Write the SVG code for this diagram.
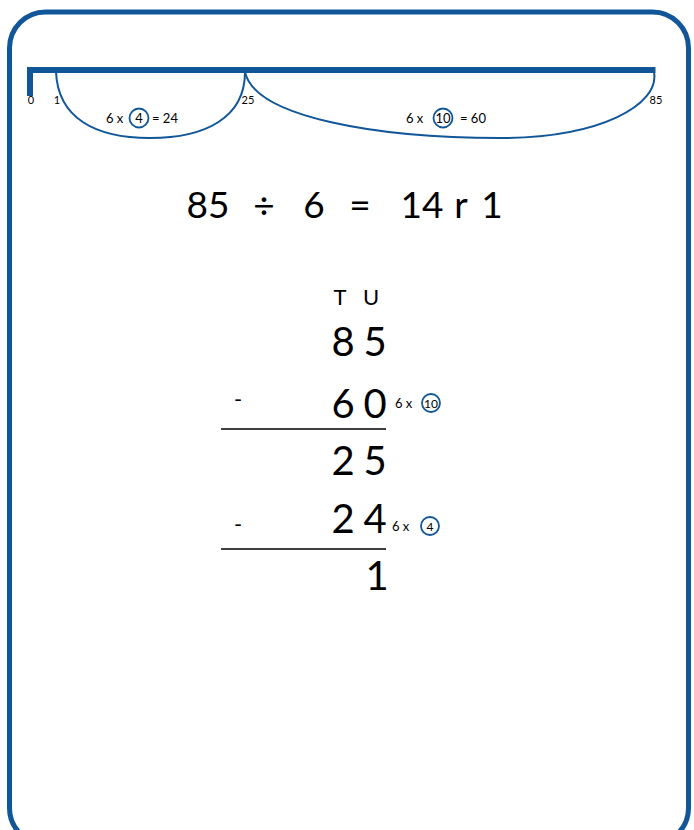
<svg xmlns="http://www.w3.org/2000/svg" width="694" height="830" viewBox="0 0 694 830">
<style>
  .blue{fill:none;stroke:#115699;}
  .t{font-family:Lato,"Open Sans","Liberation Sans",sans-serif;fill:#000;}
  .c{fill:none;stroke:#115699;stroke-width:1.8;}
</style>
<rect id="frame" x="9.5" y="12" width="679" height="832" rx="36" ry="36" class="blue" stroke-width="5"/>
<g id="numberline">
  <path d="M30 96 V70 H655.5" class="blue" stroke-width="6"/>
  <g class="t" font-size="11" text-anchor="middle">
    <text x="31" y="104">0</text>
    <text x="57" y="104">1</text>
    <text x="248" y="104">25</text>
    <text x="656" y="104">85</text>
  </g>
</g>
<g id="jumps">
  <path d="M56 72 C58 118 95 138 150 138 C205 138 245 118 245 72" class="blue" stroke-width="2"/>
  <path d="M245 72 C255 118 380 138 500 138 C600 138 660 105 654 72" class="blue" stroke-width="2"/>
</g>
<g id="jump1-label">
  <text class="t" font-size="13" x="106" y="122.5">6 x</text>
  <circle cx="139" cy="118" r="9.5" class="c"/>
  <text class="t" font-size="13" x="139" y="122.5" text-anchor="middle">4</text>
  <text class="t" font-size="13" x="152" y="122.5">= 24</text>
</g>
<g id="jump2-label">
  <text class="t" font-size="13" x="406" y="122.5">6 x</text>
  <circle cx="443" cy="118" r="9.5" class="c"/>
  <text class="t" font-size="13" x="443" y="122.5" text-anchor="middle">10</text>
  <text class="t" font-size="13" x="460" y="122.5">= 60</text>
</g>
<g id="equation">
  <text class="t" font-size="37" y="218" text-anchor="middle"><tspan x="208">85</tspan><tspan x="264">÷</tspan><tspan x="314">6</tspan><tspan x="360">=</tspan><tspan x="422">14</tspan><tspan x="461">r</tspan><tspan x="492">1</tspan></text>
</g>
<g id="column" class="t" text-anchor="middle">
  <text font-size="22" y="305"><tspan x="340">T</tspan><tspan x="371">U</tspan></text>
  <text font-size="40" y="356"><tspan x="343">8</tspan><tspan x="375">5</tspan></text>
  <text font-size="22" x="238" y="407">-</text>
  <text font-size="40" y="418"><tspan x="343">6</tspan><tspan x="375">0</tspan></text>
  <text font-size="40" y="475"><tspan x="343">2</tspan><tspan x="375">5</tspan></text>
  <text font-size="22" x="238" y="532">-</text>
  <text font-size="40" y="533"><tspan x="343">2</tspan><tspan x="375">4</tspan></text>
  <text font-size="40" x="377" y="590">1</text>
</g>
<g id="lines">
  <line x1="221" y1="429" x2="386" y2="429" stroke="#000" stroke-width="1.6"/>
  <line x1="221" y1="549" x2="386" y2="549" stroke="#000" stroke-width="1.6"/>
</g>
<g id="note1">
  <text class="t" font-size="13" x="395" y="408">6 x</text>
  <circle cx="431" cy="403" r="9" class="c"/>
  <text class="t" font-size="12" x="431" y="407.5" text-anchor="middle">10</text>
</g>
<g id="note2">
  <text class="t" font-size="13" x="392" y="531">6 x</text>
  <circle cx="430" cy="526" r="9" class="c"/>
  <text class="t" font-size="12" x="430" y="530.5" text-anchor="middle">4</text>
</g>
</svg>
